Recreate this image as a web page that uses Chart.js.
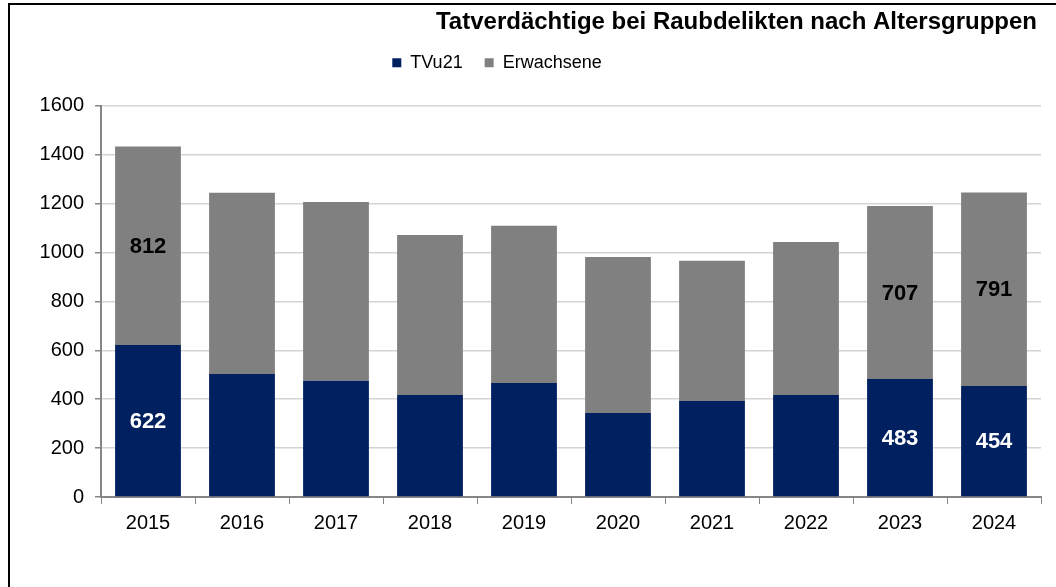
<!DOCTYPE html>
<html lang="de">
<head>
  <meta charset="UTF-8">
  <title>Tatverdächtige bei Raubdelikten</title>
  <script src="https://cdn.jsdelivr.net/npm/chart.js"></script>
  <style>
    html, body { margin: 0; padding: 0; background: #fff; }
    #wrap { position: relative; width: 1056px; height: 587px; overflow: hidden; }
    #frame { position: absolute; left: 8px; top: 3px; width: 1060px; height: 600px; border: 2px solid #000; box-sizing: border-box; pointer-events: none; }
  </style>
</head>
<body>
  <div id="wrap">
    <canvas id="chart" width="1056" height="587"></canvas>
    <div id="frame"></div>
  </div>

  <script>
    const years = ['2015', '2016', '2017', '2018', '2019', '2020', '2021', '2022', '2023', '2024'];
    const tvu21 = [622, 503, 475, 417, 466, 344, 393, 417, 483, 454];
    const erwachsene = [812, 741, 732, 655, 643, 638, 573, 626, 707, 791];
    const showValue = [true, false, false, false, false, false, false, false, true, true];

    const FONT = '"Liberation Sans", Arial, sans-serif';

    // values in the bar middle, only for the years that show them
    const barValues = {
      id: 'barValues',
      afterDatasetsDraw(chart) {
        const ctx = chart.ctx;
        ctx.save();
        ctx.font = 'bold 22px ' + FONT;
        ctx.textAlign = 'center';
        ctx.textBaseline = 'middle';
        chart.data.datasets.forEach((ds, i) => {
          const meta = chart.getDatasetMeta(i);
          meta.data.forEach((bar, j) => {
            if (!showValue[j]) return;
            const mid = (bar.y + bar.base) / 2;
            ctx.fillStyle = i === 0 ? '#ffffff' : '#000000';
            ctx.fillText(ds.data[j], bar.x, mid + 1);
          });
        });
        ctx.restore();
      }
    };

    // legend sits a bit left of the middle and higher up, title a bit in from the right
    const nudge = {
      id: 'nudge',
      afterLayout(chart) {
        const lg = chart.legend;
        lg.left -= 29; lg.right -= 29;
        lg.top -= 24; lg.bottom -= 24;
        chart.titleBlock.right -= 4;
      }
    };

    new Chart(document.getElementById('chart'), {
      type: 'bar',
      data: {
        labels: years,
        datasets: [
          { label: 'TVu21', data: tvu21, backgroundColor: '#002060' },
          { label: 'Erwachsene', data: erwachsene, backgroundColor: '#808080' }
        ]
      },
      options: {
        responsive: false,
        animation: false,
        events: [],
        layout: { padding: { top: 8, left: 11, right: 15, bottom: 0 } },
        datasets: { bar: { categoryPercentage: 1, barPercentage: 0.7 } },
        plugins: {
          title: {
            display: true,
            text: 'Tatverdächtige bei Raubdelikten nach Altersgruppen',
            align: 'end',
            color: '#000',
            font: { family: FONT, size: 24, weight: 'bold' },
            padding: { top: 0, bottom: 19 }
          },
          legend: {
            display: true,
            labels: {
              color: '#000',
              font: { family: FONT, size: 18 },
              boxWidth: 9,
              boxHeight: 9,
              padding: 22
            }
          },
          tooltip: { enabled: false }
        },
        scales: {
          x: {
            stacked: true,
            grid: { drawOnChartArea: false, drawTicks: true, tickLength: 7, color: '#868686' },
            border: { color: '#868686', width: 2 },
            ticks: { color: '#000', padding: 7, font: { family: FONT, size: 20 } },
            afterFit(scale) { scale.height = 90; }
          },
          y: {
            stacked: true,
            min: 0,
            max: 1600,
            grid: { color: '#d4d4d4', lineWidth: 1.5, tickLength: 6, tickColor: '#868686' },
            border: { color: '#868686', width: 2 },
            ticks: {
              stepSize: 200, color: '#000', padding: 11,
              font: { family: FONT, size: 20 },
              callback: v => String(v)
            },
            afterFit(scale) { scale.width = 90; }
          }
        }
      },
      plugins: [barValues, nudge]
    });
  </script>
</body>
</html>
